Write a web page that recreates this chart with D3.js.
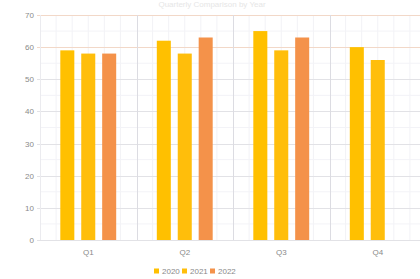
<!DOCTYPE html>
<html><head><meta charset="utf-8">
<script src="https://cdn.jsdelivr.net/npm/d3@7"></script>
<style>body{margin:0;background:#fff;}svg{display:block;font-family:"Liberation Sans",Arial,sans-serif;}</style>
</head><body>
<script>
const categories = ["Q1","Q2","Q3","Q4"];
const seriesNames = ["2020","2021","2022"];
const v2020 = [59, 62, 65, 60];
const v2021 = [58, 58, 59, 56];
const v2022 = [58, 63, 63, null];
const yTicks = [0,10,20,30,40,50,60,70];
const colors = ["#FFC000","#FFBE0B","#F4924A"];
const seriesVals = [v2020, v2021, v2022];

const W = 420, H = 279;
const m = {l:40, r:-6, t:15, b:39};
const svg = d3.select("body").append("svg").attr("width",W).attr("height",H);

const x = d3.scaleBand().domain(categories).range([m.l, W - m.r]);
const xi = d3.scaleBand().domain(seriesNames).range([0, x.bandwidth()]).paddingInner(0.33).paddingOuter(0.97);
const y = d3.scaleLinear().domain([0,70]).range([H - m.b, m.t]);

// faint title
svg.append("text").attr("x", 212).attr("y", 7).attr("text-anchor","middle")
  .attr("font-size", 8).attr("fill","#e6e6e6").text("Quarterly Comparison by Year");

// minor vertical grid
const g = svg.append("g");
categories.forEach(c => {
  for (let k = 1; k < 6; k++) {
    const xx = x(c) + x.bandwidth()*k/6;
    g.append("line").attr("x1",xx).attr("x2",xx).attr("y1",y(70)).attr("y2",y(0))
      .attr("stroke","#f2f2f6").attr("stroke-width",1);
  }
});
// minor horizontal grid
for (let v = 0; v < 70; v += 5) {
  if (v % 10 === 0) continue;
  g.append("line").attr("x1",m.l).attr("x2",W).attr("y1",y(v)).attr("y2",y(v))
    .attr("stroke","#f3f3f7").attr("stroke-width",1);
}
// major horizontal grid
yTicks.forEach(t => {
  g.append("line").attr("x1",m.l - 3).attr("x2",W).attr("y1",Math.round(y(t))+0.5).attr("y2",Math.round(y(t))+0.5)
    .attr("stroke", t >= 60 ? "#f2d8c8" : "#e2e2e6").attr("stroke-width",1);
});
// category separators
categories.forEach((c,i) => {
  const xx = Math.round(x(c)) + 0.5;
  g.append("line").attr("x1",xx).attr("x2",xx).attr("y1",y(70)).attr("y2",y(0))
    .attr("stroke", i===0 ? "#ebebef" : "#dcdce2").attr("stroke-width",1);
});

// y axis labels
const yAxis = d3.axisLeft(y).tickValues(yTicks).tickSize(0).tickPadding(6);
const ya = svg.append("g").attr("transform",`translate(${m.l},0)`).call(yAxis);
ya.select(".domain").remove();
ya.selectAll("text").attr("font-size",8).attr("fill","#8a8a8a");

// bars
categories.forEach((c,ci) => {
  seriesNames.forEach((s,si) => {
    const val = seriesVals[si][ci];
    if (val == null) return;
    svg.append("rect")
      .attr("x", x(c) + xi(s)).attr("width", xi.bandwidth())
      .attr("y", y(val)).attr("height", y(0) - y(val))
      .attr("fill", colors[si]);
  });
});

// x axis labels
const xAxis = d3.axisBottom(x).tickSize(0).tickPadding(9);
const xa = svg.append("g").attr("transform",`translate(0,${y(0)})`).call(xAxis);
xa.select(".domain").remove();
xa.selectAll("text").attr("font-size",8).attr("fill","#8a8a8a");

// legend
const lg = svg.append("g").attr("transform","translate(154,271)");
seriesNames.forEach((s,i) => {
  const gx = i*28;
  lg.append("rect").attr("x", gx).attr("y",-2.5).attr("width",5).attr("height",5).attr("fill",colors[i]);
  lg.append("text").attr("x", gx+8).attr("y",3).attr("font-size",8).attr("fill","#8a8a8a").text(s);
});
</script>
</body></html>
